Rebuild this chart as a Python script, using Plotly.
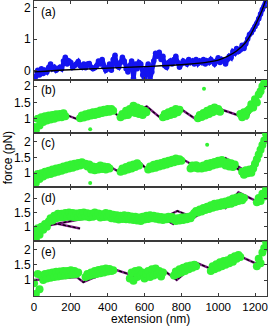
import plotly.graph_objects as go
from plotly.subplots import make_subplots

# ---------------- data ----------------
X_GRID = list(range(0, 1261, 10))  # extension sampling grid (nm)
N = None

# panel (a): measured force (blue) and model curve (black)
a_force = [
    -0.3, -0.2, 0.0, -0.15, 0.05, -0.1, 0.0, -0.05, 0.1, 0.2,
    0.05, 0.1, 0.0, 0.05, 0.1, 0.05, 0.3, 0.42, 0.2, 0.3,
    0.25, 0.1, 0.15, 0.2, 0.28, 0.15, 0.1, 0.2, 0.08, 0.2,
    0.22, 0.1, 0.05, 0.08, 0.15, 0.3, 0.2, 0.35, 0.1, 0.0,
    0.05, 0.2, 0.0, 0.35, 0.48, 0.15, 0.1, 0.25, 0.42, 0.3,
    0.05, -0.05, 0.15, 0.3, -0.25, 0.2, 0.05, 0.25, 0.2, -0.15,
    -0.35, 0.05, 0.2, -0.3, -0.05, 0.3, 0.55, 0.45, 0.58, 0.35,
    0.45, 0.15, 0.1, 0.25, 0.3, 0.2, 0.35, 0.45, 0.25, 0.1,
    0.2, 0.3, 0.25, 0.2, 0.35, 0.25, 0.3, 0.2, 0.35, 0.22,
    0.3, 0.25, 0.35, 0.2, 0.3, 0.25, 0.35, 0.28, 0.2, 0.3,
    0.4, 0.25, 0.35, 0.3, 0.2, 0.35, 0.45, 0.4, 0.6, 0.55,
    0.7, 0.6, 0.65, 0.8, 0.7, 0.85, 1.0, 1.15, 1.2, 1.3,
    1.4, 1.5, 1.65, 1.8, 1.95, 2.05, 2.25,
]
a_model_x = [0, 200, 400, 600, 800, 900, 950, 1000, 1050, 1100, 1150, 1180, 1210, 1240, 1260]
a_model_y = [-0.05, 0.02, 0.07, 0.12, 0.18, 0.23, 0.27, 0.33, 0.45, 0.62, 0.9, 1.18, 1.55, 1.95, 2.3]

# panel (b)
b_force = [
    0.75, 0.65, 1.0, 0.8, 1.05, 0.9, 1.08, 0.95, 1.1, 0.98,
    1.12, 1.0, 1.14, 1.04, 1.15, 1.05, 1.17, 1.08,
    N, N, N, N, N, N, N,
    1.02, 1.1, 1.04, 1.14, 1.07, 1.17, 1.1, 1.2, 1.12, 1.22,
    1.15, 1.26, 1.18, 1.28, 1.2, 1.3, 1.22, 1.3, 1.25,
    N, N, N,
    1.05, 1.15, 1.1, 1.25, 1.12, 1.3, 1.2, 1.4, 1.18, 1.35,
    1.15, 1.3, 1.12, 1.25, 1.2,
    N, N, N, N, N, N, N, N,
    1.05, 1.15, 1.08, 1.2, 1.12, 1.25, 1.15, 1.3, 1.2, 1.28,
    N, N, N, N, N, N, N, N, N,
    1.02, 1.12, 1.06, 1.18, 1.1, 1.25, 1.15, 1.3, 1.2, 1.35, 1.25,
    1.3, 1.22, N, N, N, N, N, N, N, N, N, N,
    1.15, 1.05, 1.2, 1.1, 1.25, 1.3, 1.45, 1.35, 1.6, 1.5,
    1.75, 1.85, 2.0, 2.1, 2.2,
]
b_extra_x = [305, 923]
b_extra_y = [0.68, 1.92]
b_fit_x = [0, 175, 241, 415, 476, 612, 693, 793, 883, 983, 1155, 1262]
b_fit_y = [0.95, 1.12, 0.98, 1.3, 1.0, 1.38, 1.0, 1.32, 0.97, 1.35, 1.02, 2.2]

# panel (c)
c_force = [
    0.85, 0.7, 0.98, 0.82, 1.0, 0.9, 1.05, 0.95, 1.08, 0.98,
    1.12, 1.02, 1.15, 1.05, 1.18, 1.08, 1.22, 1.12, 1.25, 1.15,
    1.28, 1.18, 1.3, 1.22, 1.33, 1.25, 1.35, 1.28, 1.3, 1.22,
    1.28, 1.12, 1.22, 1.1, 1.2, 1.12, 1.25, 1.14, 1.22, 1.12,
    1.2, 1.15,
    N, N, N, N, N,
    1.05, 1.15, 1.08, 1.2, 1.12, 1.25, 1.15, 1.28, 1.2, 1.32, 1.25,
    N, N, N, N,
    1.12, 1.22, 1.15, 1.27, 1.18, 1.3, 1.22, 1.33, 1.25, 1.37,
    1.28, 1.4, 1.32, 1.43, 1.35, 1.47, 1.38, 1.45, 1.4,
    N, N, N, N,
    1.15, 1.25, 1.18, 1.26, 1.15, 1.22, 1.15, 1.25, 1.18, 1.3,
    1.2, 1.33, 1.25, 1.36, 1.28, 1.4, 1.3, 1.42, 1.35, 1.25,
    1.35, 1.22, 1.32, 1.2, 1.28,
    N, N, N,
    1.05, 0.95, 1.1, 1.0, 1.12, 1.02, 1.15, 1.3, 1.45, 1.6,
    1.75, 1.9, 2.05, 2.25,
]
c_extra_x = [305, 940]
c_extra_y = [0.69, 1.91]
c_fit_x = [0, 265, 310, 415, 460, 578, 615, 800, 905, 1040, 1165, 1262]
c_fit_y = [0.92, 1.35, 1.22, 1.2, 1.05, 1.32, 1.12, 1.47, 1.12, 1.48, 1.0, 2.3]
c_fit2_x = [1030, 1140]
c_fit2_y = [1.4, 1.02]

# panel (d)
d_force = [
    0.8, 0.55, 0.95, 0.72, 1.0, 0.9, 1.1, 1.0, 1.18, 1.3,
    1.22, 1.38, 1.3, 1.45, 1.32, 1.45, 1.33, 1.48, 1.35, 1.5,
    1.36, 1.48, 1.33, 1.46, 1.34, 1.48, 1.35, 1.5, 1.36, 1.47,
    1.33, 1.45, 1.35, 1.5, 1.38, 1.46, 1.32, 1.44, 1.34, 1.48,
    1.35, 1.45,
    1.3, 1.42, 1.28, 1.4, 1.25, 1.38, 1.27, 1.4, 1.26, 1.38,
    1.25, 1.36, 1.24, 1.35, 1.22,
    1.32, 1.2, 1.35, 1.25, 1.38, 1.27, 1.4, 1.3, 1.38, 1.28,
    1.36, 1.25, 1.34, 1.24, 1.32, 1.26, 1.35, 1.28, 1.34, 1.25,
    1.2, 1.3, 1.22, 1.32, 1.24, 1.33, 1.26, 1.35, 1.3, 1.4,
    1.48, 1.55, 1.5, 1.6, 1.53, 1.65, 1.58, 1.7, 1.62, 1.75,
    1.66, 1.8, 1.7, 1.82, 1.72, 1.85, 1.75, 1.88, 1.78,
    1.92, 1.8, 1.98, 1.85, 2.02, 1.9, 2.05, 1.92, 2.0,
    N, N, N, N, N, N,
    1.85, 2.0, 1.9, 2.15, 2.05, 2.3,
]
d_fit_x = [0, 420, 570, 669, 760, N, 700, 778, 869, 1000, 1040, 1110, 1220, 1262]
d_fit_y = [0.95, 1.47, 1.2, 1.42, 1.08, N, 1.3, 1.55, 1.32, 1.88, 1.65, 2.2, 1.85, 2.35]
d_fit2_x = [130, 250]
d_fit2_y = [1.1, 0.94]

# panel (e)
e_force = [
    0.9, 0.55, 1.2, 0.7, 1.15, 1.0, 1.2, 1.05, 1.22, 1.08,
    1.25, 1.1, 1.27, 1.12, 1.28, 1.14, 1.3, 1.15, 1.3, 1.17,
    1.32, 1.18, 1.3, 1.2, 1.25,
    N, N, N,
    1.1, 1.2, 1.14, 1.25, 1.17, 1.3, 1.2, 1.33, 1.22, 1.35,
    1.25, 1.38, 1.28, 1.36, 1.3, 1.32,
    N, N, N, N, N, N, N, N,
    1.05, 1.25, 0.98, 1.3, 1.1, 1.32, 1.15, 1.25, 1.05, 1.2,
    1.3, 1.1, 1.35, 1.15, 1.38, 1.2, 1.3, 1.12, 1.25,
    N, N, N, N, N,
    1.15, 1.28, 1.2, 1.35, 1.25, 1.4, 1.3, 1.45, 1.35, 1.48,
    1.4, 1.5, 1.45,
    N, N, N, N, N, N, N,
    1.3, 1.45, 1.35, 1.52, 1.4, 1.58, 1.45, 1.62, 1.5, 1.65,
    1.55, 1.72, 1.6, 1.78, 1.7, 1.82, 1.75,
    N, N, N, N, N, N, N, N,
    1.45, 1.7, 1.55, 1.9, 2.05, 2.25,
]
e_fit_x = [0, 232, 268, 431, 558, 702, 775, 883, 965, 1100, 1209, 1262]
e_fit_y = [1.0, 1.1, 0.93, 1.36, 1.11, 1.33, 1.0, 1.56, 1.36, 1.83, 1.53, 2.3]
e_fit2_x = [280, 335, N, 595, 635]
e_fit2_y = [1.16, 1.08, N, 1.3, 1.2]

PANEL_LABELS = ["(a)", "(b)", "(c)", "(d)", "(e)"]
X_TICKS = [0, 200, 400, 600, 800, 1000, 1200]

# ---------------- figure ----------------
GREEN = "#33f233"
PURPLE = "#7a1a80"
BLUE = "#1414f0"
FONT = "Liberation Sans, Arial, sans-serif"

fig = make_subplots(rows=5, cols=1, shared_xaxes=True, vertical_spacing=0,
                    row_heights=[79, 53, 55, 54, 55])

fig.add_trace(go.Scatter(x=X_GRID, y=a_force, mode="lines+markers",
                         line=dict(color=BLUE, width=4.5),
                         marker=dict(color=BLUE, size=5.5)), row=1, col=1)
fig.add_trace(go.Scatter(x=a_model_x, y=a_model_y, mode="lines",
                         line=dict(color="black", width=1.3, shape="spline")), row=1, col=1)

panels = [
    (2, b_force, [(b_fit_x, b_fit_y)], (b_extra_x, b_extra_y)),
    (3, c_force, [(c_fit_x, c_fit_y), (c_fit2_x, c_fit2_y)], (c_extra_x, c_extra_y)),
    (4, d_force, [(d_fit_x, d_fit_y), (d_fit2_x, d_fit2_y)], None),
    (5, e_force, [(e_fit_x, e_fit_y), (e_fit2_x, e_fit2_y)], None),
]
for row, force, fits, extra in panels:
    for fx, fy in fits:
        fig.add_trace(go.Scatter(x=fx, y=fy, mode="lines", connectgaps=False,
                                 line=dict(color=PURPLE, width=2.4)), row=row, col=1)
        fig.add_trace(go.Scatter(x=fx, y=fy, mode="lines", connectgaps=False,
                                 line=dict(color="black", width=1.2, dash="3px,2px")), row=row, col=1)
    fig.add_trace(go.Scatter(x=X_GRID, y=force, mode="markers",
                             marker=dict(color=GREEN, size=8, line=dict(width=0))), row=row, col=1)
    if extra:
        fig.add_trace(go.Scatter(x=extra[0], y=extra[1], mode="markers",
                                 marker=dict(color=GREEN, size=4)), row=row, col=1)

axis_common = dict(showline=True, linecolor="#3a3a3a", linewidth=1, mirror="ticks",
                   ticks="inside", ticklen=3, tickcolor="#3a3a3a", showgrid=False,
                   zeroline=False, ticklabeloverflow="allow")

for r in range(1, 6):
    fig.update_xaxes(range=[0, 1265], tickvals=X_TICKS, showticklabels=(r == 5),
                     tickfont=dict(family=FONT, size=11.5, color="black"),
                     row=r, col=1, **axis_common)
ytf = dict(family=FONT, size=12, color="black")
fig.update_yaxes(range=[-0.3, 2.22], tickvals=[0, 1, 2], tickfont=ytf, row=1, col=1, **axis_common)
y_ranges = {2: [0.58, 2.2], 3: [0.55, 2.3], 4: [0.5, 2.37], 5: [0.48, 2.27]}
for r, rg in y_ranges.items():
    fig.update_yaxes(range=rg, tickvals=[1, 1.5, 2], ticktext=["1", "1.5", "2"],
                     tickfont=ytf, row=r, col=1, **axis_common)

for i, lab in enumerate(PANEL_LABELS):
    ax = "" if i == 0 else str(i + 1)
    fig.add_annotation(text=lab, xref=f"x{ax} domain", yref=f"y{ax} domain",
                       x=0.02, y=0.97, xanchor="left", yanchor="top", showarrow=False,
                       font=dict(family=FONT, size=12, color="black"))

fig.add_annotation(text="extension (nm)", xref="paper", yref="paper", x=0.5, y=-0.078,
                   xanchor="center", yanchor="middle", showarrow=False,
                   font=dict(family=FONT, size=12, color="black"))
fig.add_annotation(text="force (pN)", xref="paper", yref="paper", x=-0.112, y=0.47,
                   xanchor="center", yanchor="middle", textangle=-90, showarrow=False,
                   font=dict(family=FONT, size=12, color="black"))

fig.update_layout(width=268, height=327, margin=dict(l=34, r=1, t=1, b=31),
                  showlegend=False, plot_bgcolor="white", paper_bgcolor="white")

fig.write_html("out.html", config={"displayModeBar": False},
               post_script="document.body.style.margin='0';document.body.style.padding='0';"
                           "document.body.style.overflow='hidden';")
